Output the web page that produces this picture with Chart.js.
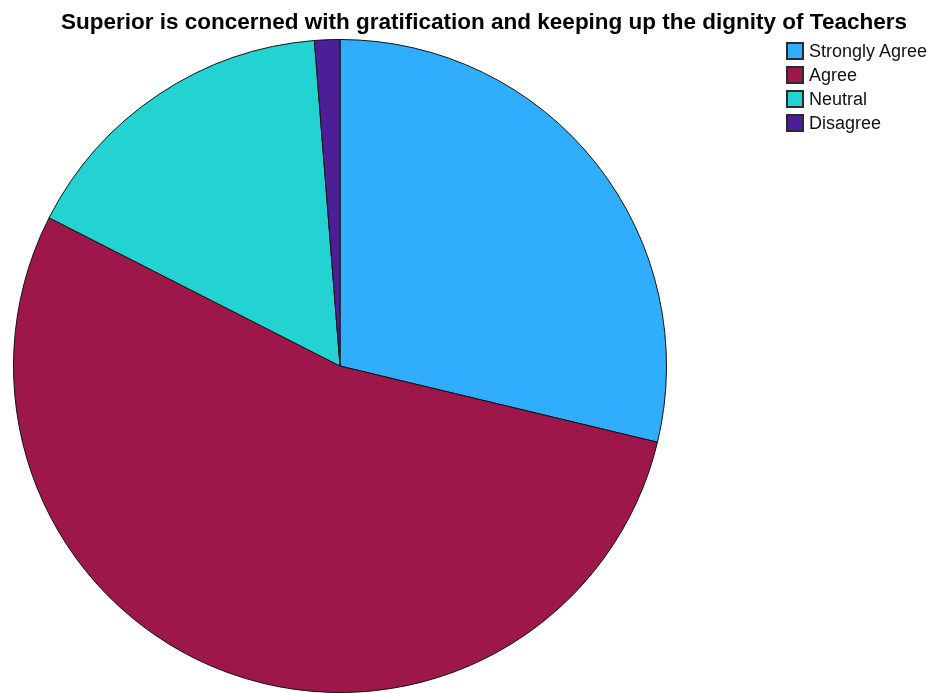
<!DOCTYPE html>
<html>
<head>
<meta charset="utf-8">
<script src="https://cdn.jsdelivr.net/npm/chart.js@4"></script>
<style>
  html, body { margin: 0; padding: 0; background: #fff; }
  #wrap { position: relative; width: 934px; height: 693px; overflow: hidden; }
  #pie { position: absolute; left: 0; top: 0; }
  #title {
    position: absolute; left: 0; top: 9px; width: 968px; text-align: center;
    font: bold 22.5px "Liberation Sans", Arial, sans-serif; color: #000; white-space: nowrap;
  }
  #legend { position: absolute; left: 786px; top: 42px; font: 18px "Liberation Sans", Arial, sans-serif; color: #111; }
  #legend div { height: 24px; line-height: 18px; white-space: nowrap; }
  #legend span.box {
    display: inline-block; width: 18px; height: 18px; border: 2px solid #2a2a2a;
    vertical-align: -3px; margin-right: 5px; box-sizing: border-box;
  }
</style>
</head>
<body>
<div id="wrap">
  <canvas id="pie" width="934" height="693"></canvas>
  <div id="title">Superior is concerned with gratification and keeping up the dignity of Teachers</div>
  <div id="legend"></div>
</div>
<script>
// Responses (counts)
const categories = ['Strongly Agree', 'Agree', 'Neutral', 'Disagree'];
const counts = [23, 43, 13, 1];
const colors = ['#31adfe', '#9e174b', '#22d3d1', '#4c1f97'];

// Legend built in HTML
const legend = document.getElementById('legend');
categories.forEach(function(name, i) {
  const row = document.createElement('div');
  const box = document.createElement('span');
  box.className = 'box';
  box.style.background = colors[i];
  row.appendChild(box);
  row.appendChild(document.createTextNode(name));
  legend.appendChild(row);
});

const ctx = document.getElementById('pie').getContext('2d');
new Chart(ctx, {
  type: 'pie',
  data: {
    labels: categories,
    datasets: [{
      data: counts,
      backgroundColor: colors,
      borderColor: '#111',
      borderWidth: 1
    }]
  },
  options: {
    responsive: false,
    animation: false,
    layout: { padding: { left: 10, right: 264, top: 39, bottom: -4 } },
    plugins: {
      legend: { display: false },
      tooltip: { enabled: false }
    }
  }
});
</script>
</body>
</html>
